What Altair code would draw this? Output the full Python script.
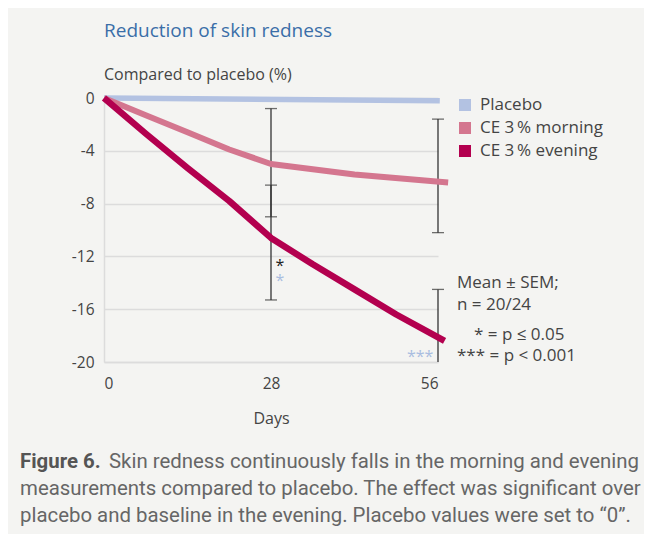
import altair as alt
import pandas as pd

# ---- data ----
series_names = ["Placebo", "CE 3\u2009% morning", "CE 3\u2009% evening"]
series_colors = ["#b3c2e2", "#d4768f", "#b3004f"]
series_widths = [5.5, 6.5, 7]

placebo_days = [0, 56.3]
placebo_vals = [0.0, -0.2]
morning_days = [0, 7, 14, 21, 28, 42, 57.7]
morning_vals = [0.0, -1.3, -2.6, -3.9, -5.0, -5.8, -6.4]
evening_days = [0, 7, 14, 21, 28, 35, 42, 49, 57.1]
evening_vals = [0.0, -2.7, -5.3, -7.8, -10.6, -12.6, -14.5, -16.4, -18.4]

# error bars (mean ± SEM)
eb_days = [28, 28, 56, 56]
eb_low = [-9.0, -15.3, -10.2, -20.0]
eb_high = [-0.8, -6.6, -1.6, -14.5]
cap_days = [28, 28, 28, 28, 56, 56, 56]
cap_vals = [-0.8, -9.0, -6.6, -15.3, -1.6, -10.2, -14.5]

# significance marks
star_days = [29.5, 29.5, 53.0]
star_vals = [-12.75, -13.85, -19.6]
star_text = ["*", "*", "***"]
star_colors = ["#222222", "#a9bde0", "#a9bde0"]

y_ticks = [0, -4, -8, -12, -16, -20]
x_ticks = [0, 28, 56]

title_text = "Reduction of skin redness"
ytitle_text = "Compared to placebo (%)"
xtitle_text = "Days"
note_lines = ["Mean ± SEM;", "n = 20/24", "* = p ≤ 0.05", "*** = p < 0.001"]
caption_bold = "Figure 6."
caption_lines = [
    "Skin redness continuously falls in the morning and evening",
    "measurements compared to placebo. The effect was significant over",
    "placebo and baseline in the evening. Placebo values were set to \u201c0\u201d.",
]

FONT = "Open Sans"
TXT = "#444444"
BG = "#f4f4f2"

# ---- tables ----
rows = []
for name, d, v in [(series_names[0], placebo_days, placebo_vals),
                   (series_names[1], morning_days, morning_vals),
                   (series_names[2], evening_days, evening_vals)]:
    for i, (dd, vv) in enumerate(zip(d, v)):
        rows.append({"series": name, "day": dd, "value": vv, "order": i})
lines_df = pd.DataFrame(rows)

eb_df = pd.DataFrame({"day": eb_days, "low": eb_low, "high": eb_high})
cap_df = pd.DataFrame({"day": cap_days, "value": cap_vals})
star_df = pd.DataFrame({"day": star_days, "value": star_vals,
                        "t": star_text, "c": star_colors})

xscale = alt.Scale(domain=[0, 56], nice=False, zero=False)
yscale = alt.Scale(domain=[-20, 0], nice=False)
cscale = alt.Scale(domain=series_names, range=series_colors)

lines = alt.Chart(lines_df).mark_line(strokeCap="butt", strokeJoin="round").encode(
    x=alt.X("day:Q", scale=xscale,
            axis=alt.Axis(values=x_ticks, title=xtitle_text, labelExpr="'' + datum.value")),
    y=alt.Y("value:Q", scale=yscale,
            axis=alt.Axis(values=y_ticks, title=None, labelExpr="'' + datum.value")),
    color=alt.Color("series:N", scale=cscale, sort=series_names, legend=None),
    size=alt.Size("series:N",
                  scale=alt.Scale(domain=series_names, range=series_widths),
                  legend=None),
    order="order:Q",
)

# legend (drawn as squares + labels, one per series)
legend_parts = []
for i, (name, col) in enumerate(zip(series_names, series_colors)):
    ly = 7 + 23 * i
    legend_parts.append(
        alt.Chart(pd.DataFrame({"s": [name]})).mark_square(
            filled=True, size=144, color=col, opacity=1
        ).encode(x=alt.value(361), y=alt.value(ly))
    )
    legend_parts.append(
        alt.Chart(pd.DataFrame({"s": [name]})).mark_text(
            font=FONT, fontSize=17, color=TXT, align="left", baseline="middle"
        ).encode(x=alt.value(376), y=alt.value(ly), text="s:N")
    )

bars = alt.Chart(eb_df).mark_rule(color="#333333", strokeWidth=1.3).encode(
    x="day:Q", y="low:Q", y2="high:Q")

caps = alt.Chart(cap_df).mark_tick(color="#333333", orient="horizontal",
                                   size=12, thickness=1.3).encode(
    x="day:Q", y="value:Q")

stars = alt.Chart(star_df).mark_text(font=FONT, fontSize=16, baseline="middle",
                                     align="center").encode(
    x="day:Q", y="value:Q", text="t:N", color=alt.Color("c:N", scale=None))


def txt(text, x, y, size=17, color=TXT, align="left", weight="normal", font=FONT):
    return alt.Chart(pd.DataFrame({"t": [text]})).mark_text(
        font=font, fontSize=size, color=color, align=align, baseline="middle",
        fontWeight=weight).encode(x=alt.value(x), y=alt.value(y), text="t:N")


CAP = 20.4
texts = [
    txt(title_text, 0, -67, size=19, color="#3a6ea8"),
    txt(ytitle_text, 0, -23, size=16),
    txt(note_lines[0], 353, 185),
    txt(note_lines[1], 353, 207),
    txt(note_lines[2], 370, 237),
    txt(note_lines[3], 353, 258),
    txt(caption_bold, -84, 364, size=CAP, color="#555555", weight="bold", font="Roboto"),
    txt(caption_lines[0], 5, 364, size=CAP, color="#666666", font="Roboto"),
    txt(caption_lines[1], -84, 391, size=CAP, color="#666666", font="Roboto"),
    txt(caption_lines[2], -84, 418, size=CAP, color="#666666", font="Roboto"),
]

chart = alt.layer(bars, caps, lines, stars, *legend_parts, *texts).properties(
    width=334, height=264,
    autosize=alt.AutoSizeParams(type="none"),
    padding={"left": 96, "top": 90, "right": 206, "bottom": 172},
    background=BG,
).configure_view(stroke=None).configure_axis(
    labelFont=FONT, labelFontSize=15.5, labelColor=TXT,
    titleFont=FONT, titleFontSize=16, titleColor=TXT, titleFontWeight="normal",
    ticks=False, domainColor="#dcdcdc", domainWidth=1.5,
).configure_axisY(
    grid=True, gridColor="#dcdcdc", gridWidth=1.5, labelPadding=10,
).configure_axisX(
    grid=False, labelPadding=14, titlePadding=19,
)

chart.save("out.html", embed_options={"renderer": "svg", "actions": False})
